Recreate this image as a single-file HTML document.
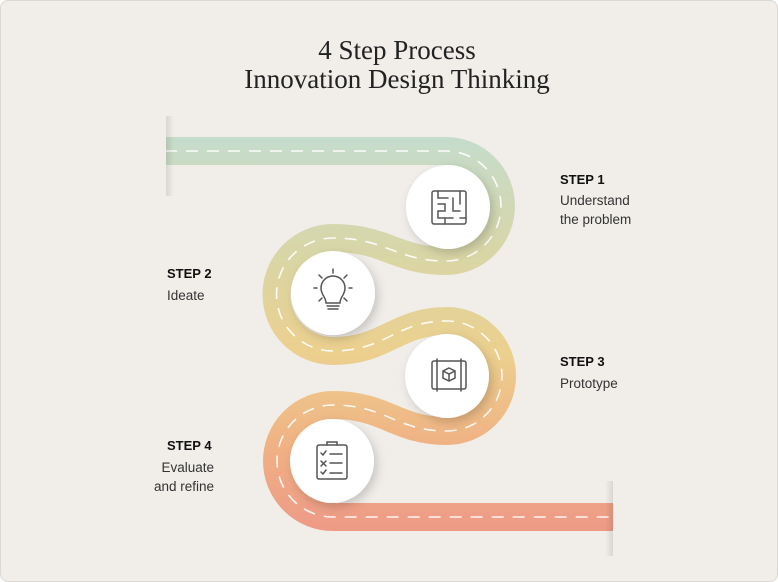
<!DOCTYPE html>
<html><head><meta charset="utf-8"><style>
html,body{margin:0;padding:0;background:#fff;}
#card{position:absolute;left:0;top:0;width:776px;height:580px;background:#f1eeea;border:1px solid #dcd8d3;border-radius:8px;overflow:hidden;font-family:"Liberation Sans",sans-serif;}
.t{position:absolute;font-family:"Liberation Serif",serif;color:#222;font-size:27px;white-space:nowrap;transform:translateX(-50%);left:396px;}
.h{position:absolute;font-weight:bold;font-size:13px;color:#111;}
.d{position:absolute;font-size:13.5px;color:#333;line-height:19px;}
</style></head><body>
<div id="card">
<div class="t" style="top:34px">4 Step Process</div>
<div class="t" style="top:63px">Innovation Design Thinking</div>
<svg width="778" height="582" style="position:absolute;left:0;top:0">
<defs>
<linearGradient id="g" gradientUnits="userSpaceOnUse" x1="0" y1="140" x2="0" y2="525">
<stop offset="0" stop-color="#c6dccb"/>
<stop offset="0.3" stop-color="#d9d6a6"/>
<stop offset="0.55" stop-color="#ecd08e"/>
<stop offset="0.78" stop-color="#f0b384"/>
<stop offset="1" stop-color="#ee9b86"/>
</linearGradient>
<filter id="sh" x="-50%" y="-50%" width="200%" height="200%"><feDropShadow dx="3" dy="4" stdDeviation="5" flood-color="#000" flood-opacity="0.18"/></filter>
<linearGradient id="ls" x1="0" x2="1"><stop offset="0" stop-color="#000" stop-opacity="0.10"/><stop offset="1" stop-color="#000" stop-opacity="0"/></linearGradient>
<linearGradient id="rs" x1="1" x2="0"><stop offset="0" stop-color="#000" stop-opacity="0.10"/><stop offset="1" stop-color="#000" stop-opacity="0"/></linearGradient>
</defs>
<g>
<path d="M165,150 H445 A55,55 0 0 1 445,260 C395,260 385,237 332,237 A56.5,56.5 0 0 0 332,350 C385,350 395,320 446,320 A55,55 0 0 1 446,430 C395,430 385,404 332,404 A56,56 0 0 0 332,516 H612" fill="none" stroke="url(#g)" stroke-width="28"/>
<path d="M165,150 H445 A55,55 0 0 1 445,260 C395,260 385,237 332,237 A56.5,56.5 0 0 0 332,350 C385,350 395,320 446,320 A55,55 0 0 1 446,430 C395,430 385,404 332,404 A56,56 0 0 0 332,516 H612" fill="none" stroke="#fff" stroke-opacity="0.9" stroke-width="1.6" stroke-dasharray="12 9" stroke-dashoffset="-20"/>
</g>
<rect x="165" y="115" width="8" height="80" fill="url(#ls)"/>
<rect x="604" y="480" width="8" height="75" fill="url(#rs)"/>
<g filter="url(#sh)">
<circle cx="447" cy="206" r="42" fill="#fff"/>
<circle cx="332" cy="292" r="42" fill="#fff"/>
<circle cx="446" cy="375" r="42" fill="#fff"/>
<circle cx="331" cy="460" r="42" fill="#fff"/>
</g>
<g fill="none" stroke="#555" stroke-width="1.5" stroke-linecap="round">
<g>
<rect x="431" y="190" width="34" height="33" rx="2"/>
<path d="M437,190 V197 H447 M437,203 H444 V210 H437 V217 H452 M452,197 V210 H459 M459,190 V203 M444,223 V217 M459,217 H465"/>
</g>
<g>
<path d="M325,302 C325,296 320,294 320,287 A12,12 0 0 1 344,287 C344,294 339,296 339,302 Z M326,305 H338 M327,308 H337"/>
<path d="M332,268 V272 M318,274 L321,277 M346,274 L343,277 M313,287 H316 M348,287 H351 M318,300 L321,297 M346,300 L343,297"/>
</g>
<g>
<rect x="431" y="360" width="34" height="28" rx="2"/>
<path d="M436,358 V390 M460,358 V390"/>
<path d="M448,367 L454,370 V377 L448,380 L442,377 V370 Z M442,370 L448,373 L454,370 M448,373 V380"/>
</g>
<g>
<rect x="316" y="444" width="30" height="34" rx="2"/>
<path d="M326,444 V441 H336 V444"/>
<path d="M320,452 l2,2 l3,-4 M320,460 l5,5 M325,460 l-5,5 M320,471 l2,2 l3,-4 M329,453 H341 M329,462 H341 M329,472 H341"/>
</g>
</g>
</svg>
<div class="h" style="left:559px;top:171px">STEP 1</div>
<div class="d" style="left:559px;top:190px">Understand<br>the problem</div>
<div class="h" style="left:166px;top:265px">STEP 2</div>
<div class="d" style="left:166px;top:285px">Ideate</div>
<div class="h" style="left:559px;top:353px">STEP 3</div>
<div class="d" style="left:559px;top:373px">Prototype</div>
<div class="h" style="left:166px;top:437px">STEP 4</div>
<div class="d" style="right:563px;top:457px;text-align:right">Evaluate<br>and refine</div>
</div>
</body></html>
